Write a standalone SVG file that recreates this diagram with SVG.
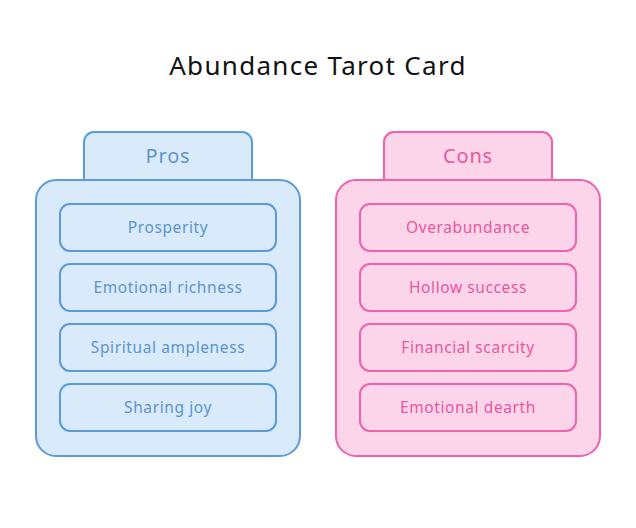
<svg xmlns="http://www.w3.org/2000/svg" width="636" height="528" viewBox="0 0 636 528">
<style>
text{font-family:"Noto Sans","DejaVu Sans",sans-serif;text-anchor:middle;dominant-baseline:central}
.title{font-size:26px;fill:#111;letter-spacing:1.3px}
.pro rect{fill:#d9eafb;stroke:#5e9bd6;stroke-width:2}
.pro text{fill:#5e94cc}
.con rect{fill:#fdd5ea;stroke:#f062ab;stroke-width:2}
.con text{fill:#e8579f}
.head{font-size:20px;letter-spacing:0.8px}
.item{font-size:15.5px;letter-spacing:0.6px}
</style>
<rect width="636" height="528" fill="#fff"/>
<text class="title" x="318" y="65">Abundance Tarot Card</text>
<g id="pros" class="pro">
<rect x="84" y="132" width="168" height="60" rx="10"/>
<rect x="36" y="180" width="264" height="276" rx="20"/>
<text class="head" x="168" y="155">Pros</text>
<g id="pros-1"><rect x="60" y="204" width="216" height="47" rx="10"/><text class="item" x="168" y="227">Prosperity</text></g>
<g id="pros-2"><rect x="60" y="264" width="216" height="47" rx="10"/><text class="item" x="168" y="287">Emotional richness</text></g>
<g id="pros-3"><rect x="60" y="324" width="216" height="47" rx="10"/><text class="item" x="168" y="347">Spiritual ampleness</text></g>
<g id="pros-4"><rect x="60" y="384" width="216" height="47" rx="10"/><text class="item" x="168" y="407">Sharing joy</text></g>
</g>
<g id="cons" class="con">
<rect x="384" y="132" width="168" height="60" rx="10"/>
<rect x="336" y="180" width="264" height="276" rx="20"/>
<text class="head" x="468" y="155">Cons</text>
<g id="cons-1"><rect x="360" y="204" width="216" height="47" rx="10"/><text class="item" x="468" y="227">Overabundance</text></g>
<g id="cons-2"><rect x="360" y="264" width="216" height="47" rx="10"/><text class="item" x="468" y="287">Hollow success</text></g>
<g id="cons-3"><rect x="360" y="324" width="216" height="47" rx="10"/><text class="item" x="468" y="347">Financial scarcity</text></g>
<g id="cons-4"><rect x="360" y="384" width="216" height="47" rx="10"/><text class="item" x="468" y="407">Emotional dearth</text></g>
</g>
<g id="connectors"/>
</svg>
